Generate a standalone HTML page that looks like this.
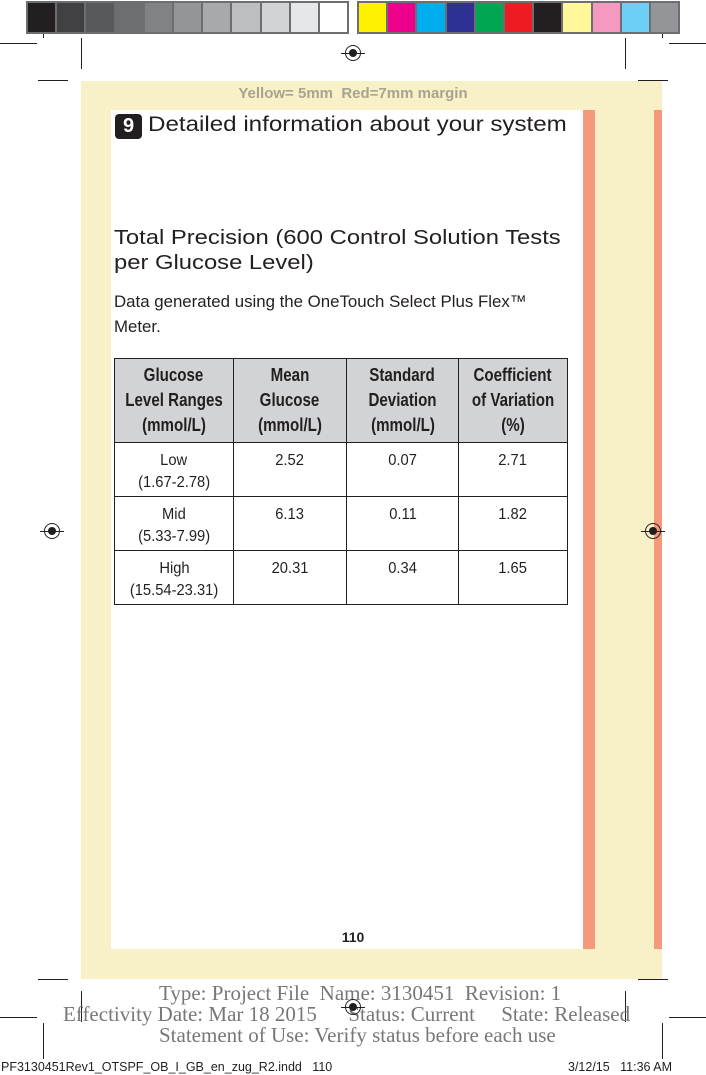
<!DOCTYPE html>
<html><head><meta charset="utf-8"><style>
*{margin:0;padding:0;box-sizing:border-box}
body{width:706px;height:1075px;position:relative;background:#fff;font-family:"Liberation Sans",sans-serif;overflow:hidden}
.a{position:absolute}
.bar{position:absolute;top:1px;height:33px;background:#6d6e71;padding:2px;display:flex;gap:2px}
.bar div{flex:1;height:29px}
.l{position:absolute;background:#231f20}
.c{white-space:nowrap}
.sx{display:inline-block;transform-origin:0 0;white-space:nowrap}
table{position:absolute;left:114px;top:358px;width:454px;border-collapse:collapse;font-family:"Liberation Sans Narrow","Liberation Sans",sans-serif;color:#231f20}
td,th{border:1px solid #231f20;text-align:center;vertical-align:top;font-size:16px}
th{background:#d1d3d4;font-weight:bold;height:84px;padding-top:4px;line-height:25px;font-size:18px}
th span{display:inline-block;transform:scaleX(0.84);white-space:nowrap}
td{height:54px;padding-top:7px;line-height:22px;font-size:16px}
td span{display:inline-block;transform:scaleX(0.92);white-space:nowrap}
.reg{position:absolute;width:16px;height:16px;border:1px solid #231f20;border-radius:50%}
.reg::before{content:"";position:absolute;left:3px;top:3px;width:8px;height:8px;border-radius:50%;background:#231f20}
.reg::after{content:"";position:absolute;left:-5px;top:7px;width:24px;height:1px;background:#231f20}
.ft{font-family:"Liberation Serif",serif;color:#777;font-size:21px;position:absolute;white-space:nowrap}
</style></head><body>
<div class="bar" style="left:26px;width:323px">
<div style="background:#231f20"></div><div style="background:#414042"></div><div style="background:#58595b"></div><div style="background:#6d6e71"></div><div style="background:#808285"></div><div style="background:#939598"></div><div style="background:#a7a9ac"></div><div style="background:#bcbec0"></div><div style="background:#d1d3d4"></div><div style="background:#e6e7e8"></div><div style="background:#fff"></div>
</div>
<div class="bar" style="left:357px;width:323px">
<div style="background:#fff200"></div><div style="background:#ec008c"></div><div style="background:#00aeef"></div><div style="background:#2e3192"></div><div style="background:#00a651"></div><div style="background:#ed1c24"></div><div style="background:#231f20"></div><div style="background:#fff799"></div><div style="background:#f49ac1"></div><div style="background:#6dcff6"></div><div style="background:#939598"></div>
</div>
<div class="a" style="left:81px;top:81px;width:581px;height:898px;background:#f8f0c6"></div>
<div class="a" style="left:111px;top:110px;width:472px;height:839px;background:#fff"></div>
<div class="a" style="left:583px;top:110px;width:12px;height:839px;background:#f4997b"></div>
<div class="a" style="left:654px;top:110px;width:8px;height:839px;background:#f4997b"></div>
<div class="l" style="left:43px;top:34px;width:1px;height:4px"></div>
<div class="l" style="left:662px;top:34px;width:1px;height:4px"></div>
<div class="l" style="left:0;top:43px;width:37px;height:1px"></div>
<div class="l" style="left:669px;top:43px;width:37px;height:1px"></div>
<div class="l" style="left:81px;top:38px;width:1px;height:31px"></div>
<div class="l" style="left:625px;top:38px;width:1px;height:31px"></div>
<div class="l" style="left:38px;top:80px;width:30px;height:1px"></div>
<div class="l" style="left:638px;top:80px;width:30px;height:1px"></div>
<div class="l" style="left:38px;top:979px;width:30px;height:1px"></div>
<div class="l" style="left:638px;top:979px;width:30px;height:1px"></div>
<div class="l" style="left:81px;top:991px;width:1px;height:31px"></div>
<div class="l" style="left:625px;top:991px;width:1px;height:31px"></div>
<div class="l" style="left:0;top:1017px;width:37px;height:1px"></div>
<div class="l" style="left:669px;top:1017px;width:37px;height:1px"></div>
<div class="l" style="left:43px;top:1023px;width:1px;height:36px"></div>
<div class="l" style="left:662px;top:1023px;width:1px;height:36px"></div>
<div class="reg" style="left:345px;top:45px"></div>
<div class="reg" style="left:44px;top:523px"></div>
<div class="reg" style="left:645px;top:523px"></div>

<div class="a c" style="left:0;width:706px;text-align:center;top:85px;font-size:15px;font-weight:bold;color:#a7a48f">Yellow= 5mm&nbsp; Red=7mm margin</div>
<div class="a" style="left:115px;top:114px;width:27px;height:25px;background:#231f20;border-radius:4px;color:#fff;font-size:20px;font-weight:bold;text-align:center;line-height:25px">9</div>
<div class="a c" style="left:148px;top:113px;font-size:21px;color:#231f20"><span class="sx" style="transform:scaleX(1.15)">Detailed information about your system</span></div>
<div class="a" style="left:114px;top:226px;font-size:20px;line-height:25px;color:#231f20"><span class="sx" style="transform:scaleX(1.19)">Total Precision (600 Control Solution Tests</span><br><span class="sx" style="transform:scaleX(1.19)">per Glucose Level)</span></div>
<div class="a" style="left:114px;top:289px;font-size:17px;line-height:25px;color:#231f20"><span class="sx" style="transform:scaleX(0.99)">Data generated using the OneTouch Select Plus Flex™</span><br><span class="sx" style="transform:scaleX(0.99)">Meter.</span></div>
<table>
<tr><th style="width:119px"><span>Glucose</span><br><span>Level Ranges</span><br><span>(mmol/L)</span></th><th style="width:113px"><span>Mean</span><br><span>Glucose</span><br><span>(mmol/L)</span></th><th style="width:112px"><span>Standard</span><br><span>Deviation</span><br><span>(mmol/L)</span></th><th><span>Coefficient</span><br><span>of Variation</span><br><span>(%)</span></th></tr>
<tr><td><span>Low</span><br><span>(1.67-2.78)</span></td><td><span>2.52</span></td><td><span>0.07</span></td><td><span>2.71</span></td></tr>
<tr><td><span>Mid</span><br><span>(5.33-7.99)</span></td><td><span>6.13</span></td><td><span>0.11</span></td><td><span>1.82</span></td></tr>
<tr><td><span>High</span><br><span>(15.54-23.31)</span></td><td><span>20.31</span></td><td><span>0.34</span></td><td><span>1.65</span></td></tr>
</table>
<div class="a c" style="left:0;width:706px;text-align:center;top:929px;font-size:14px;font-weight:bold;color:#231f20">110</div>
<div class="ft" style="left:159px;top:981px">Type: Project File&nbsp; Name: 3130451&nbsp; Revision: 1</div>
<div class="ft" style="left:63px;top:1002px">Effectivity Date: Mar 18 2015&nbsp;&nbsp;&nbsp;&nbsp;&nbsp; Status: Current&nbsp;&nbsp;&nbsp;&nbsp; State: Released</div>
<div class="ft" style="left:159px;top:1023px">Statement of Use: Verify status before each use</div>
<div class="reg" style="left:345px;top:999px"></div>
<div class="a c" style="left:1px;top:1060px;font-size:12.5px;color:#231f20">PF3130451Rev1_OTSPF_OB_I_GB_en_zug_R2.indd&nbsp;&nbsp; 110</div>
<div class="a c" style="left:568px;top:1060px;font-size:12.5px;color:#231f20">3/12/15&nbsp;&nbsp; 11:36 AM</div>
</body></html>
